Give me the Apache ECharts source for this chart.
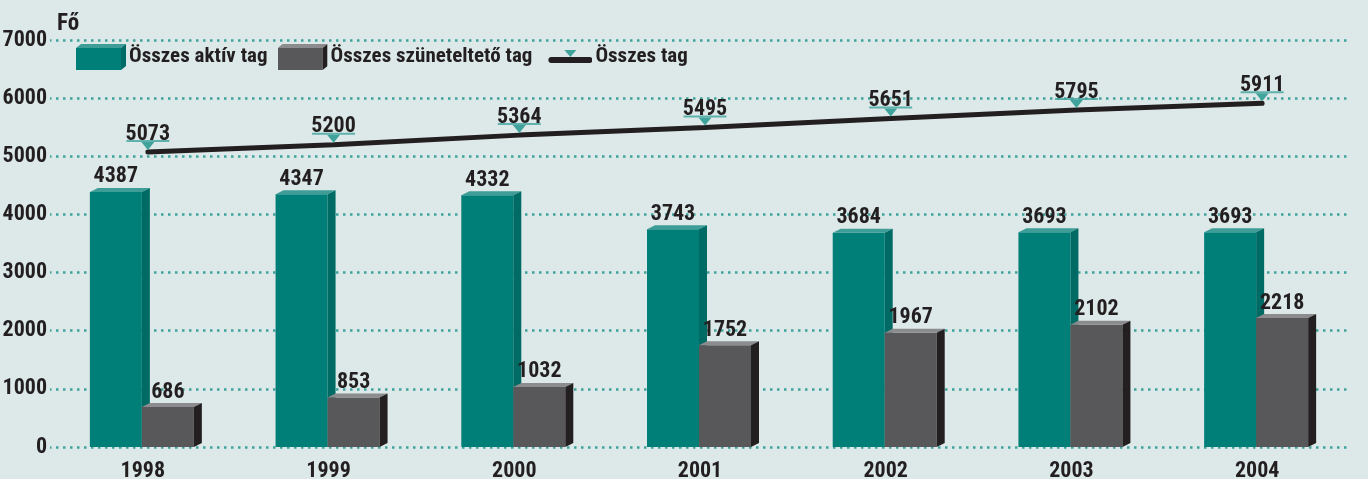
<!DOCTYPE html>
<html>
<head>
<meta charset="utf-8">
<script src="https://cdn.jsdelivr.net/npm/echarts@6/dist/echarts.min.js"></script>
<style>
html, body { margin: 0; padding: 0; background: #dce9e8; }
#chart { width: 1368px; height: 479px; }
</style>
</head>
<body>
<div id="chart"></div>
<script>
// adatok
const years = ['1998', '1999', '2000', '2001', '2002', '2003', '2004']
const aktiv = [4387, 4347, 4332, 3743, 3684, 3693, 3693]
const szunetelteto = [686, 853, 1032, 1752, 1967, 2102, 2218]
const osszes = [5073, 5200, 5364, 5495, 5651, 5795, 5911]

const FONT = "'Roboto Condensed', 'Open Sans Condensed', 'DejaVu Sans Condensed', sans-serif"
const INK = '#231f20'
const TEAL = '#007f78'
const DOT = '#3fa39c'

// 3D-s oszlop: előlap, tető, oldallap + felirat
function box3d (colors, side) {
  return function (params, api) {
    const idx = api.value(0)
    const val = api.value(1)
    const top = api.coord([idx, val])
    const base = api.coord([idx, 0])
    const band = api.size([1, 0])[0]
    const w = band * 0.28
    const x = side === 0 ? top[0] - w - 1 : top[0] - 1
    const dx = 8
    const dy = 4
    const y = top[1]
    return {
      type: 'group',
      children: [
        { type: 'rect', shape: { x: x, y: y, width: w, height: base[1] - y }, style: { fill: colors[0] } },
        { type: 'polygon', shape: { points: [[x, y], [x + dx, y - dy], [x + w + dx, y - dy], [x + w, y]] }, style: { fill: colors[1] } },
        { type: 'polygon', shape: { points: [[x + w, y], [x + w + dx, y - dy], [x + w + dx, base[1] - dy], [x + w, base[1]]] }, style: { fill: colors[2] } },
        {
          type: 'text',
          x: x + w / 2,
          y: y - dy,
          style: { text: String(val), align: 'center', verticalAlign: 'bottom', fill: INK, font: 'bold 22px ' + FONT }
        }
      ]
    }
  }
}

// jelmagyarázat ikonok (svg)
function svgIcon (body) {
  const svg = '<svg xmlns="http://www.w3.org/2000/svg" width="50" height="26" viewBox="0 0 50 26">' + body + '</svg>'
  return 'image://data:image/svg+xml;charset=utf-8,' + encodeURIComponent(svg)
}
function boxSvg (front, topc, sidec) {
  return svgIcon(
    '<rect x="0" y="4" width="45" height="22" fill="' + front + '"/>' +
    '<polygon points="0,4 5,0 50,0 45,4" fill="' + topc + '"/>' +
    '<polygon points="45,4 50,0 50,22 45,26" fill="' + sidec + '"/>'
  )
}
const lineSvg = svgIcon(
  '<rect x="6" y="13" width="44" height="6" rx="3" fill="' + INK + '"/>' +
  '<polygon points="22,6 34,6 28,13" fill="' + DOT + '"/>'
)

const myChart = echarts.init(document.getElementById('chart'))

const option = {
  backgroundColor: '#dce9e8',
  animation: false,
  textStyle: { fontFamily: FONT },
  legend: {
    left: 76,
    top: 44,
    padding: 0,
    itemWidth: 50,
    itemHeight: 26,
    itemGap: 10,
    textStyle: { fontSize: 21, fontWeight: 'bold', color: INK, fontFamily: FONT, padding: [2, 0, 0, -2] },
    data: [
      { name: 'Összes aktív tag', icon: boxSvg(TEAL, '#3f9d97', '#006a64') },
      { name: 'Összes szüneteltető tag', icon: boxSvg('#58585a', '#8c8c8e', INK) },
      { name: 'Összes tag', icon: lineSvg }
    ]
  },
  grid: [
    { left: 50, right: 18, top: 40, bottom: 32, outerBoundsMode: 'none' },
    { left: 55, right: 13, top: 40, bottom: 32, outerBoundsMode: 'none' }
  ],
  xAxis: [
    {
      type: 'category',
      data: years,
      gridIndex: 0,
      axisLine: { show: false },
      axisTick: { show: false },
      axisLabel: { fontSize: 22, fontWeight: 'bold', color: INK, fontFamily: FONT, margin: 13 }
    },
    {
      type: 'category',
      data: years,
      gridIndex: 1,
      show: false
    }
  ],
  yAxis: [
    {
      type: 'value',
      gridIndex: 0,
      min: 0,
      max: 7000,
      interval: 1000,
      name: 'Fő',
      nameLocation: 'end',
      nameGap: 4,
      nameTextStyle: { fontSize: 23, fontWeight: 'bold', color: INK, fontFamily: FONT, align: 'left', padding: [0, 0, 0, 7] },
      axisLine: { show: false },
      axisTick: { show: false },
      axisLabel: { fontSize: 22, fontWeight: 'bold', color: INK, fontFamily: FONT, margin: 3, formatter: v => String(v) },
      splitLine: { lineStyle: { color: DOT, width: 2.5, type: [2.5, 4.5], dashOffset: -6 } }
    },
    {
      type: 'value',
      gridIndex: 1,
      min: 0,
      max: 7000,
      interval: 1000,
      show: false,
      splitLine: { show: false }
    }
  ],
  series: [
    {
      name: 'Összes aktív tag',
      type: 'custom',
      xAxisIndex: 0,
      yAxisIndex: 0,
      itemStyle: { color: TEAL },
      encode: { x: 0, y: 1 },
      data: aktiv.map((v, i) => [i, v]),
      renderItem: box3d([TEAL, '#3f9d97', '#006a64'], 0)
    },
    {
      name: 'Összes szüneteltető tag',
      type: 'custom',
      xAxisIndex: 0,
      yAxisIndex: 0,
      itemStyle: { color: '#58585a' },
      encode: { x: 0, y: 1 },
      data: szunetelteto.map((v, i) => [i, v]),
      renderItem: box3d(['#58585a', '#8c8c8e', INK], 1)
    },
    {
      name: 'Összes tag',
      type: 'line',
      xAxisIndex: 1,
      yAxisIndex: 1,
      data: osszes,
      z: 5,
      lineStyle: { color: INK, width: 5, cap: 'round' },
      symbol: 'path://M0,0 L13,0 L6.5,8 Z',
      symbolSize: [13, 8],
      symbolOffset: [0, -6],
      itemStyle: { color: DOT },
      label: {
        show: true,
        position: 'top',
        distance: -3,
        fontSize: 22,
        fontWeight: 'bold',
        color: INK,
        fontFamily: FONT
      }
    },
    {
      name: 'alahuzas',
      type: 'scatter',
      xAxisIndex: 1,
      yAxisIndex: 1,
      data: osszes,
      z: 4,
      silent: true,
      symbol: 'rect',
      symbolSize: [43, 2],
      symbolOffset: [0, -11],
      itemStyle: { color: DOT }
    }
  ]
}

myChart.setOption(option)
window.addEventListener('resize', () => {
  myChart.resize()
})
</script>
</body>
</html>
